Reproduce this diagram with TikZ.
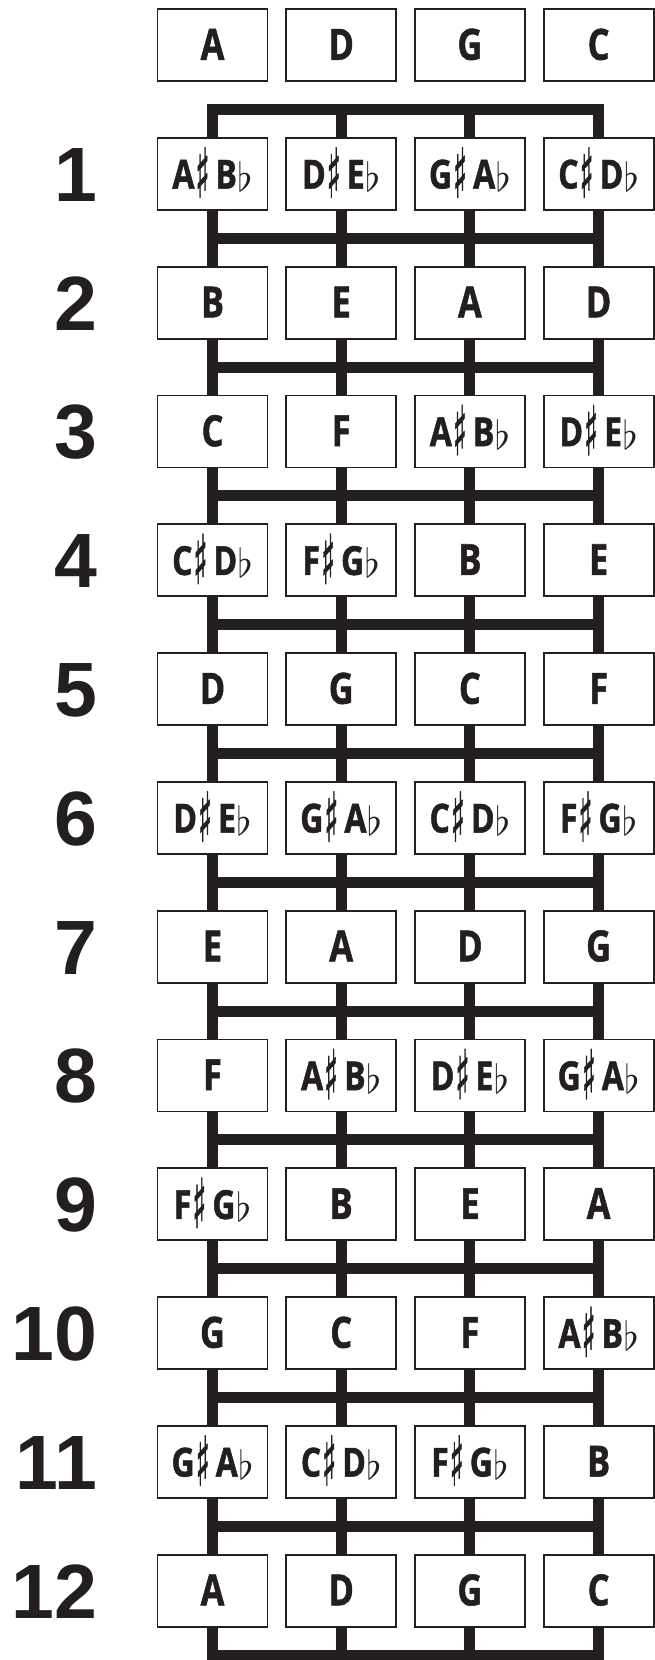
\documentclass[tikz,border=0pt]{standalone}
\usepackage{fontspec}
\usepackage{graphicx}
\newfontfamily\notefont[FakeStretch=0.8, FakeBold=1.2]{Open Sans}
\newfontfamily\numfont{Liberation Sans}
\newfontfamily\symfont[FakeBold=1.5]{DejaVu Sans}
\definecolor{ink}{RGB}{35,31,32}
\newcommand{\shp}{\raisebox{-9pt}[28pt][0pt]{\resizebox*{14pt}{50pt}{\raisebox{\depth}{\symfont ♯}}}}
\newcommand{\flt}{\raisebox{-3pt}{\scalebox{3.9}[4.0]{\normalsize$\flat$}}}
\newcommand{\sg}[1]{{\fontsize{43}{43}\selectfont #1}}
\newcommand{\pr}[2]{{\fontsize{40}{40}\selectfont #1\hspace{1pt}\shp\hspace{6pt}#2\hspace{0.5pt}\flt}}
\tikzset{
  notebox/.style={draw=ink, line width=1.8pt, fill=white, minimum width=110pt, minimum height=72pt,
    inner sep=0pt, text height=29.5pt, text depth=0pt, text=ink, font=\notefont\bfseries},
  fretnum/.style={anchor=base east, inner sep=0pt, text=ink, font=\numfont\bfseries\fontsize{77}{77}\selectfont},
  stringline/.style={draw=ink, line width=11pt},
}
\begin{document}
\begin{tikzpicture}[x=1pt, y=-1pt]
\useasboundingbox (0,0) rectangle (654,1660);
% string and fret coordinates
\foreach \i in {1,...,4} {
  \coordinate (t\i) at ({212.5+128.7*(\i-1)}, {45+128.8*0.5});
  \coordinate (b\i) at ({212.5+128.7*(\i-1)}, {45+128.8*12.5});
}
\draw[stringline] (t1) rectangle (b4);
\draw[stringline] (t2) -- (b2);
\draw[stringline] (t3) -- (b3);
\foreach \k in {1,...,11} {
  \coordinate (fl\k) at (212.5, {45+128.8*(\k+0.5)});
  \coordinate (fr\k) at (598.6, {45+128.8*(\k+0.5)});
  \draw[stringline] (fl\k) -- (fr\k);
}
% note boxes
\foreach \r/\na/\nb/\nc/\nd in {
  0/\sg{A}/\sg{D}/\sg{G}/\sg{C},
  1/\pr{A}{B}/\pr{D}{E}/\pr{G}{A}/\pr{C}{D},
  2/\sg{B}/\sg{E}/\sg{A}/\sg{D},
  3/\sg{C}/\sg{F}/\pr{A}{B}/\pr{D}{E},
  4/\pr{C}{D}/\pr{F}{G}/\sg{B}/\sg{E},
  5/\sg{D}/\sg{G}/\sg{C}/\sg{F},
  6/\pr{D}{E}/\pr{G}{A}/\pr{C}{D}/\pr{F}{G},
  7/\sg{E}/\sg{A}/\sg{D}/\sg{G},
  8/\sg{F}/\pr{A}{B}/\pr{D}{E}/\pr{G}{A},
  9/\pr{F}{G}/\sg{B}/\sg{E}/\sg{A},
  10/\sg{G}/\sg{C}/\sg{F}/\pr{A}{B},
  11/\pr{G}{A}/\pr{C}{D}/\pr{F}{G}/\sg{B},
  12/\sg{A}/\sg{D}/\sg{G}/\sg{C}} {
  \node[notebox] (n\r-1) at (212.5, {45+128.8*\r}) {\na};
  \node[notebox] (n\r-2) at (341.2, {45+128.8*\r}) {\nb};
  \node[notebox] (n\r-3) at (469.9, {45+128.8*\r}) {\nc};
  \node[notebox] (n\r-4) at (598.6, {45+128.8*\r}) {\nd};
}
% fret numbers
\foreach \r in {1,...,12} {
  \node[fretnum] (num\r) at (97.5, {45+128.8*\r+27.5}) {\r};
}
\end{tikzpicture}
\end{document}
